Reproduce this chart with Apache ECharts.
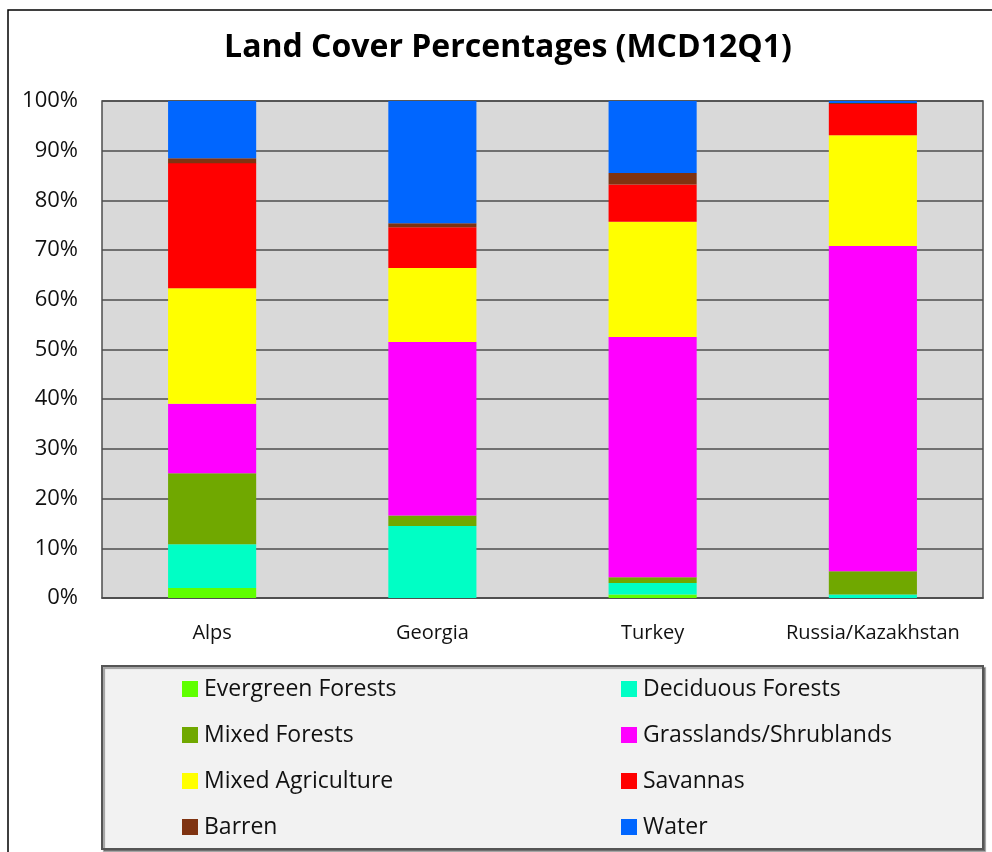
<!DOCTYPE html>
<html>
<head>
<meta charset="utf-8">
<script src="https://cdn.jsdelivr.net/npm/echarts@6/dist/echarts.min.js"></script>
<style>
    html, body { margin: 0; padding: 0; background: #fff; }
    #chart { width: 992px; height: 852px; }
</style>
</head>
<body>
<div id="chart"></div>
<script>
    // data (percent of area)
    var regions = ['Alps', 'Georgia', 'Turkey', 'Russia/Kazakhstan'];
    var evergreen = [2.0, 0.0, 0.7, 0.0];
    var deciduous = [8.8, 14.5, 2.3, 0.7];
    var mixedForests = [14.3, 2.1, 1.2, 4.7];
    var grasslands = [14.0, 34.9, 48.3, 65.4];
    var agriculture = [23.2, 14.9, 23.2, 22.3];
    var savannas = [25.2, 8.2, 7.5, 6.3];
    var barren = [1.0, 0.8, 2.3, 0.2];
    var water = [11.5, 24.6, 14.5, 0.4];

    var seriesDefs = [
        { name: 'Evergreen Forests', data: evergreen, color: '#5fff00' },
        { name: 'Deciduous Forests', data: deciduous, color: '#00ffc5' },
        { name: 'Mixed Forests', data: mixedForests, color: '#70a800' },
        { name: 'Grasslands/Shrublands', data: grasslands, color: '#ff00ff' },
        { name: 'Mixed Agriculture', data: agriculture, color: '#ffff00' },
        { name: 'Savannas', data: savannas, color: '#ff0000' },
        { name: 'Barren', data: barren, color: '#7f3311' },
        { name: 'Water', data: water, color: '#0066ff' },
    ];

    var font = 'Open Sans';
    var chart = echarts.init(document.getElementById('chart'));

    var legendBase = {
        orient: 'vertical',
        top: 669,
        height: 180,
        itemWidth: 16,
        itemHeight: 16,
        itemGap: 16,
        icon: 'rect',
        selectedMode: false,
        textStyle: { fontFamily: font, fontSize: 23, color: '#111', lineHeight: 30, padding: [0, 0, 0, 1] },
    };

    chart.setOption({
        animation: false,
        title: {
            text: 'Land Cover Percentages (MCD12Q1)',
            left: 503,
            textAlign: 'center',
            top: 27,
            textStyle: { fontFamily: font, fontSize: 32, fontWeight: 'bold', color: '#000' },
        },
        graphic: [
            {
                type: 'rect',
                z: -10,
                shape: { x: 8, y: 10, width: 1000, height: 860 },
                style: { fill: '#fff', stroke: '#000', lineWidth: 1.5 },
            },
            {
                type: 'rect',
                z: -5,
                shape: { x: 102, y: 666, width: 881, height: 183 },
                style: {
                    fill: '#f2f2f2', stroke: '#555', lineWidth: 2,
                    shadowColor: 'rgba(0,0,0,0.35)', shadowOffsetX: 2, shadowOffsetY: 2, shadowBlur: 1,
                },
            },
        ],
        legend: [
            Object.assign({}, legendBase, {
                left: 177,
                data: ['Evergreen Forests', 'Mixed Forests', 'Mixed Agriculture', 'Barren'],
            }),
            Object.assign({}, legendBase, {
                left: 616,
                data: ['Deciduous Forests', 'Grasslands/Shrublands', 'Savannas', 'Water'],
            }),
        ],
        grid: {
            left: 102,
            right: 9,
            top: 101,
            bottom: 254,
            show: true,
            backgroundColor: '#d9d9d9',
            borderColor: '#4d4d4d',
            borderWidth: 1.5,
        },
        xAxis: {
            type: 'category',
            data: regions,
            axisTick: { show: false },
            axisLine: { lineStyle: { color: '#4d4d4d', width: 1.5 } },
            axisLabel: {
                fontFamily: font, fontSize: 20, color: '#111', margin: 25,
                interval: 0, hideOverlap: false,
            },
        },
        yAxis: {
            type: 'value',
            min: 0,
            max: 100,
            interval: 10,
            axisLabel: { fontFamily: font, fontSize: 22, color: '#111', margin: 24, formatter: '{value}%' },
            splitLine: { lineStyle: { color: '#4d4d4d', width: 1.5 } },
        },
        series: seriesDefs.map(function (s) {
            return {
                name: s.name,
                type: 'bar',
                stack: 'total',
                barWidth: '40%',
                data: s.data,
                itemStyle: { color: s.color },
            };
        }),
    });
</script>
</body>
</html>
